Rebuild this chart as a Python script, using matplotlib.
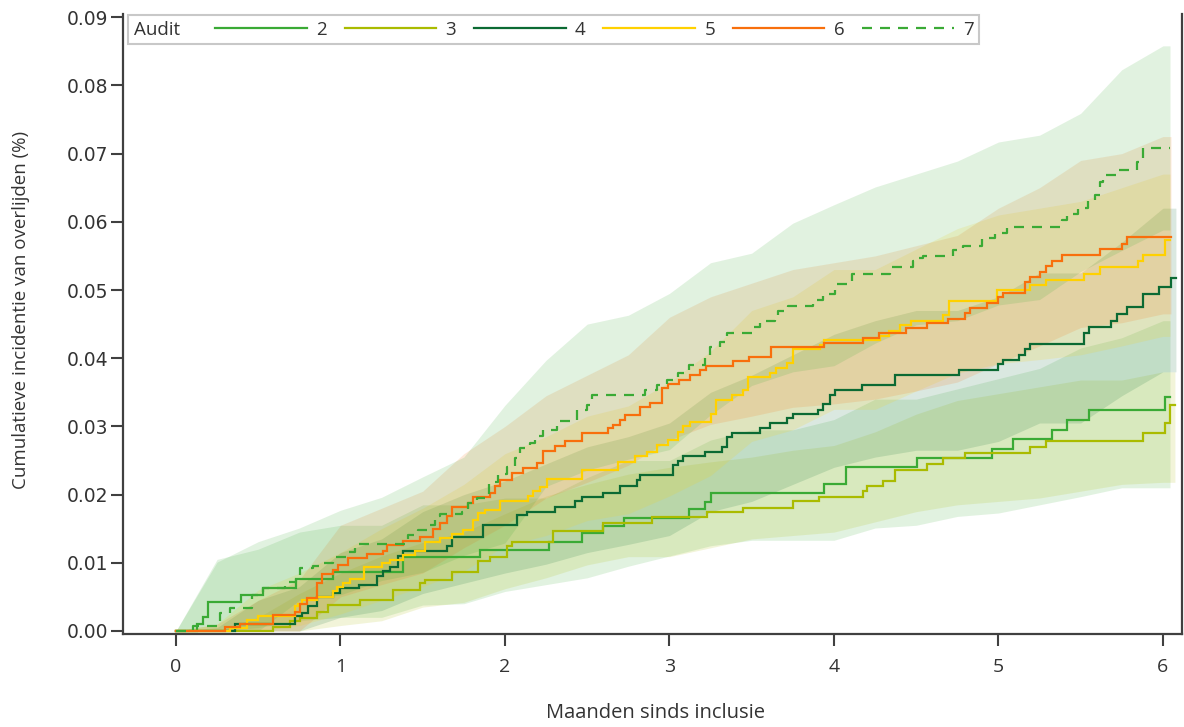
import matplotlib
matplotlib.use("Agg")
import matplotlib.pyplot as plt
from matplotlib.lines import Line2D
from matplotlib.offsetbox import HPacker
from matplotlib.font_manager import FontProperties

# ---------------- data ----------------
LABELS = ["2", "3", "4", "5", "6", "7"]
COLORS = ["#3aaa35", "#aabb00", "#0b6a33", "#ffd100", "#f86f0c", "#3aaa35"]
STYLES = ["-", "-", "-", "-", "-", "--"]

# step estimates (time in months, cumulative incidence)
T2 = [0, 0.128, 0.164, 0.195, 0.395, 0.529, 0.729, 0.954, 1.380, 1.848, 2.267, 2.468, 2.596,
      2.723, 3.119, 3.216, 3.252, 3.939, 4.073, 4.505, 4.960, 5.088, 5.325, 5.416, 5.550, 6.012]
Y2 = [0, 0.001, 0.0021, 0.0043, 0.0053, 0.0063, 0.0076, 0.0086, 0.0109, 0.0119, 0.0131, 0.0143,
      0.0154, 0.0165, 0.0179, 0.0189, 0.0203, 0.0216, 0.0241, 0.0253, 0.0267, 0.0281, 0.0295,
      0.0309, 0.0324, 0.0343]
END2 = 6.043

T3 = [0, 0.590, 0.693, 0.754, 0.857, 0.924, 1.119, 1.319, 1.483, 1.514, 1.678, 1.836, 1.909,
      2.012, 2.043, 2.292, 2.596, 2.894, 3.228, 3.447, 3.751, 3.909, 4.176, 4.201, 4.298, 4.371,
      4.565, 4.663, 4.796, 5.191, 5.289, 5.878, 6.012, 6.043]
Y3 = [0, 0.0006, 0.0014, 0.0019, 0.0028, 0.0038, 0.0045, 0.006, 0.007, 0.0075, 0.0087, 0.0102,
      0.0109, 0.0124, 0.0131, 0.0146, 0.0159, 0.0167, 0.0175, 0.0181, 0.019, 0.0197, 0.0206,
      0.0213, 0.022, 0.0236, 0.0245, 0.0253, 0.0261, 0.027, 0.0279, 0.0291, 0.0305, 0.0331]
END3 = 6.073

T4 = [0, 0.359, 0.723, 0.766, 0.802, 0.857, 0.954, 0.997, 1.112, 1.222, 1.258, 1.301, 1.350,
      1.380, 1.647, 1.678, 1.866, 2.073, 2.134, 2.304, 2.426, 2.468, 2.596, 2.699, 2.802, 2.821,
      3.021, 3.052, 3.082, 3.216, 3.319, 3.350, 3.380, 3.550, 3.611, 3.714, 3.751, 3.903, 3.933,
      3.976, 4.006, 4.170, 4.371, 4.760, 4.997, 5.027, 5.125, 5.161, 5.191, 5.520, 5.550, 5.684,
      5.720, 5.781, 5.878, 5.976, 6.049]
Y4 = [0, 0.001, 0.0022, 0.0026, 0.0037, 0.005, 0.0056, 0.0063, 0.0067, 0.008, 0.0088, 0.0094,
      0.011, 0.0117, 0.0125, 0.0138, 0.0155, 0.017, 0.0175, 0.0182, 0.019, 0.0197, 0.0203,
      0.0212, 0.0221, 0.0229, 0.0243, 0.025, 0.0257, 0.0263, 0.027, 0.0285, 0.0291, 0.0297,
      0.0305, 0.0312, 0.0318, 0.0324, 0.0333, 0.0346, 0.0353, 0.0361, 0.0375, 0.0383, 0.0391,
      0.0397, 0.0405, 0.0413, 0.0421, 0.0437, 0.0446, 0.0455, 0.0465, 0.0475, 0.0494, 0.0505,
      0.0517]
END4 = 6.079

T5 = [0, 0.328, 0.432, 0.498, 0.723, 0.742, 0.766, 0.857, 0.954, 0.979, 1.015, 1.058, 1.143,
      1.252, 1.301, 1.380, 1.453, 1.514, 1.605, 1.678, 1.745, 1.805, 1.836, 1.878, 1.970, 2.140,
      2.170, 2.213, 2.255, 2.468, 2.687, 2.790, 2.863, 2.924, 2.991, 3.052, 3.082, 3.125, 3.252,
      3.283, 3.380, 3.447, 3.477, 3.611, 3.647, 3.714, 3.751, 3.915, 3.939, 4.280, 4.334, 4.401,
      4.468, 4.663, 4.699, 4.991, 5.191, 5.289, 5.520, 5.617, 5.848, 5.878, 6.012]
Y5 = [0, 0.0004, 0.0016, 0.0022, 0.0036, 0.004, 0.0045, 0.005, 0.0059, 0.0064, 0.007, 0.0076,
      0.0094, 0.01, 0.0104, 0.0111, 0.0118, 0.013, 0.0136, 0.0142, 0.0148, 0.0163, 0.0173,
      0.0178, 0.0191, 0.0198, 0.0205, 0.0211, 0.0223, 0.0236, 0.0248, 0.0256, 0.0263, 0.0273,
      0.028, 0.0292, 0.03, 0.0306, 0.0318, 0.0339, 0.0346, 0.0353, 0.0373, 0.0379, 0.0385,
      0.0393, 0.0413, 0.0419, 0.0426, 0.0433, 0.044, 0.0449, 0.0455, 0.0463, 0.0484, 0.05,
      0.0507, 0.0515, 0.0523, 0.0533, 0.0542, 0.0551, 0.0574]
END5 = 6.043

T6 = [0, 0.298, 0.389, 0.590, 0.723, 0.754, 0.796, 0.857, 0.888, 0.954, 0.985, 1.046, 1.161,
      1.258, 1.283, 1.380, 1.483, 1.562, 1.605, 1.647, 1.678, 1.775, 1.805, 1.909, 1.939, 1.970,
      2.043, 2.109, 2.195, 2.231, 2.304, 2.365, 2.468, 2.626, 2.657, 2.699, 2.729, 2.821, 2.881,
      2.954, 2.991, 3.058, 3.125, 3.185, 3.222, 3.386, 3.483, 3.617, 3.939, 4.176, 4.274, 4.438,
      4.565, 4.693, 4.796, 4.827, 4.930, 4.997, 5.027, 5.161, 5.191, 5.252, 5.289, 5.325, 5.386,
      5.617, 5.751, 5.781]
Y6 = [0, 0.0006, 0.001, 0.0023, 0.0028, 0.004, 0.0048, 0.007, 0.0084, 0.009, 0.0097, 0.0107,
      0.0113, 0.0118, 0.0126, 0.0132, 0.0138, 0.015, 0.0158, 0.0168, 0.0182, 0.0187, 0.0197,
      0.0202, 0.0212, 0.0221, 0.0232, 0.0239, 0.0246, 0.0264, 0.0271, 0.0278, 0.029, 0.0297,
      0.0302, 0.031, 0.0317, 0.0329, 0.0335, 0.0356, 0.0362, 0.0368, 0.0375, 0.0382, 0.0388,
      0.0396, 0.0402, 0.0416, 0.0423, 0.043, 0.0437, 0.0444, 0.0451, 0.0458, 0.0467, 0.0473,
      0.0481, 0.049, 0.0496, 0.0512, 0.0519, 0.0527, 0.0535, 0.0543, 0.0551, 0.056, 0.0568,
      0.0577]
END6 = 6.049

T7 = [0, 0.103, 0.267, 0.328, 0.462, 0.529, 0.663, 0.729, 0.754, 0.833, 0.894, 0.954, 1.040,
      1.088, 1.410, 1.471, 1.526, 1.574, 1.605, 1.739, 1.775, 1.830, 1.903, 1.957, 2.012, 2.061,
      2.091, 2.152, 2.182, 2.231, 2.316, 2.438, 2.498, 2.529, 2.851, 2.924, 2.985, 3.052, 3.119,
      3.216, 3.246, 3.307, 3.350, 3.514, 3.550, 3.641, 3.660, 3.720, 3.872, 3.933, 4.006, 4.109,
      4.340, 4.480, 4.492, 4.541, 4.723, 4.784, 4.900, 4.979, 5.052, 5.386, 5.416, 5.483, 5.544,
      5.587, 5.617, 5.635, 5.720, 5.842, 5.878]
Y7 = [0, 0.0007, 0.0026, 0.0034, 0.0053, 0.0063, 0.0072, 0.008, 0.0092, 0.0095, 0.01, 0.0108,
      0.0116, 0.0128, 0.0141, 0.0148, 0.0155, 0.0168, 0.0171, 0.0175, 0.0187, 0.0195, 0.0219,
      0.023, 0.0241, 0.0253, 0.0268, 0.0275, 0.0286, 0.0294, 0.0308, 0.0324, 0.0331, 0.0346,
      0.0353, 0.0361, 0.0368, 0.0378, 0.039, 0.0402, 0.0416, 0.0424, 0.0437, 0.0446, 0.0454,
      0.0461, 0.0469, 0.0477, 0.0485, 0.0494, 0.0509, 0.0524, 0.0533, 0.0542, 0.0547, 0.055,
      0.0559, 0.0565, 0.0576, 0.0584, 0.0593, 0.0603, 0.0611, 0.062, 0.063, 0.0639, 0.0659,
      0.0669, 0.0676, 0.0688, 0.0708]
END7 = 6.043

# confidence bands sampled every quarter month
BAND_T = [0, 0.25, 0.5, 0.75, 1.0, 1.25, 1.5, 1.75, 2.0, 2.25, 2.5, 2.75, 3.0,
          3.25, 3.5, 3.75, 4.0, 4.25, 4.5, 4.75, 5.0, 5.25, 5.5, 5.75, 6.0]
LO2 = [0, 0, 0.0005, 0.0015, 0.002, 0.002, 0.0038, 0.004, 0.0058, 0.0068, 0.0078, 0.0095, 0.011,
       0.0125, 0.0133, 0.0133, 0.0133, 0.0151, 0.0155, 0.0168, 0.0173, 0.0185, 0.0197, 0.021, 0.021]
HI2 = [0, 0.0105, 0.012, 0.0145, 0.0155, 0.0155, 0.0185, 0.0185, 0.0195, 0.0195, 0.0225, 0.025,
       0.025, 0.028, 0.0295, 0.0295, 0.031, 0.034, 0.034, 0.0355, 0.037, 0.0385, 0.0415, 0.043,
       0.0455]
LO3 = [0, 0, 0, 0, 0.0008, 0.0015, 0.0035, 0.0042, 0.0062, 0.0078, 0.0097, 0.0109, 0.0109,
       0.0122, 0.0135, 0.014, 0.0145, 0.016, 0.0175, 0.0185, 0.019, 0.0195, 0.0205, 0.0215, 0.0218]
HI3 = [0, 0, 0.002, 0.0055, 0.0085, 0.011, 0.013, 0.0145, 0.0172, 0.0198, 0.0215, 0.023, 0.024,
       0.0248, 0.0255, 0.0265, 0.0272, 0.0292, 0.0318, 0.0338, 0.0348, 0.0358, 0.0368, 0.0368,
       0.038]
LO4 = [0, 0, 0, 0, 0.002, 0.003, 0.0055, 0.007, 0.0085, 0.0098, 0.0115, 0.0127, 0.014, 0.0175,
       0.019, 0.0215, 0.024, 0.0255, 0.0265, 0.0265, 0.0278, 0.0305, 0.0305, 0.0345, 0.038]
HI4 = [0, 0.0005, 0.0045, 0.0065, 0.0115, 0.0135, 0.0175, 0.02, 0.022, 0.0245, 0.027, 0.0285,
       0.0305, 0.035, 0.0375, 0.0405, 0.0435, 0.0455, 0.047, 0.047, 0.049, 0.0525, 0.0525, 0.057,
       0.062]
LO5 = [0, 0, 0, 0.0008, 0.0025, 0.0045, 0.0065, 0.0088, 0.0125, 0.014, 0.0162, 0.0172, 0.0198,
       0.0228, 0.0278, 0.0295, 0.0325, 0.0325, 0.0352, 0.0378, 0.0392, 0.0398, 0.0405, 0.0418,
       0.0432]
HI5 = [0, 0.001, 0.006, 0.0085, 0.0115, 0.015, 0.018, 0.0215, 0.026, 0.0285, 0.0315, 0.033,
       0.0365, 0.041, 0.047, 0.049, 0.053, 0.053, 0.056, 0.059, 0.061, 0.062, 0.063, 0.065, 0.067]
LO6 = [0, 0, 0, 0, 0.005, 0.0068, 0.0085, 0.0122, 0.0155, 0.0195, 0.0218, 0.0243, 0.028, 0.0303,
       0.0315, 0.0328, 0.0333, 0.034, 0.0352, 0.0365, 0.0392, 0.0418, 0.0445, 0.0452, 0.0465]
HI6 = [0, 0.001, 0.0045, 0.0075, 0.0155, 0.018, 0.0205, 0.026, 0.030, 0.0345, 0.0375, 0.0405,
       0.046, 0.049, 0.051, 0.053, 0.054, 0.055, 0.0565, 0.058, 0.062, 0.065, 0.069, 0.070, 0.0725]
LO7 = [0, 0, 0, 0.0045, 0.0053, 0.0074, 0.0086, 0.0111, 0.0129, 0.0212, 0.0236, 0.0252, 0.0266,
       0.0317, 0.036, 0.038, 0.0389, 0.0422, 0.0449, 0.0455, 0.0478, 0.0486, 0.0527, 0.0558,
       0.0588]
HI7 = [0, 0.0101, 0.0131, 0.0151, 0.0177, 0.0196, 0.0226, 0.0255, 0.0331, 0.0397, 0.045, 0.0463,
       0.0495, 0.054, 0.0554, 0.0598, 0.0625, 0.0651, 0.067, 0.0689, 0.0717, 0.0727, 0.0759,
       0.0823, 0.0858]

X_TICKS = [0, 1, 2, 3, 4, 5, 6]
Y_TICKS = [0.00, 0.01, 0.02, 0.03, 0.04, 0.05, 0.06, 0.07, 0.08, 0.09]

series = [
    (T2, Y2, END2, LO2, HI2),
    (T3, Y3, END3, LO3, HI3),
    (T4, Y4, END4, LO4, HI4),
    (T5, Y5, END5, LO5, HI5),
    (T6, Y6, END6, LO6, HI6),
    (T7, Y7, END7, LO7, HI7),
]

# ---------------- figure ----------------
W, H = 1184, 727
fig = plt.figure(figsize=(W / 100, H / 100), dpi=100)
ax = fig.add_axes([123 / W, 1 - 634 / H, (1182 - 123) / W, (634 - 14) / H])

TXT = ["Open Sans", "DejaVu Sans"]
spine_c = "#404040"

# bands first
for (t, y, end, lo, hi), c in zip(series, COLORS):
    bt = list(BAND_T) + [end]
    blo = list(lo) + [lo[-1]]
    bhi = list(hi) + [hi[-1]]
    ax.fill_between(bt, blo, bhi, color=c, alpha=0.15, lw=0)

for (t, y, end, lo, hi), c, ls in zip(series, COLORS, STYLES):
    tt = list(t) + [end]
    yy = list(y) + [y[-1]]
    kw = dict(color=c, lw=1.6, drawstyle="steps-post", solid_joinstyle="miter")
    if ls == "--":
        kw["dashes"] = (4.5, 3.6)
    ax.plot(tt, yy, **kw)

ax.set_xlim(-0.322, 6.116)
ax.set_ylim(-0.00044, 0.09047)
ax.set_xticks(X_TICKS)
ax.set_xticklabels([str(v) for v in X_TICKS], family=TXT, fontsize=14)
ax.set_yticks(Y_TICKS)
ax.set_yticklabels([f"{v:.2f}" for v in Y_TICKS], family="DejaVu Sans", fontsize=13.5,
                   color="#333333")
for lab in ax.get_xticklabels():
    lab.set_color("#333333")

for s in ["left", "bottom", "right"]:
    ax.spines[s].set_color(spine_c)
    ax.spines[s].set_linewidth(1.6)
ax.spines["top"].set_visible(False)
ax.tick_params(axis="both", direction="out", length=8.5, width=1.5, color=spine_c)
ax.tick_params(axis="x", pad=9)
ax.tick_params(axis="y", pad=2)

ax.set_xlabel("Maanden sinds inclusie", family=TXT, fontsize=14.5, color="#333333")
ax.xaxis.set_label_coords((655 - 123) / 1059, (634 - 703) / 620)
ax.set_ylabel("Cumulatieve incidentie van overlijden (%)", family=TXT, fontsize=13.5,
              color="#333333")
ax.yaxis.set_label_coords((30 - 123) / 1059, (634 - 310) / 620)

# legend: title "Audit" placed to the left of the entries
handles = []
for c, ls in zip(COLORS, STYLES):
    h = Line2D([], [], color=c, lw=1.6)
    if ls == "--":
        h.set_dashes((4.5, 3.6))
    handles.append(h)
fp = FontProperties(family=TXT, size=13.5)
leg = ax.legend(handles, LABELS, title="Audit", ncol=6, loc="upper left",
                bbox_to_anchor=(128 / W, 1 - 15 / H), bbox_transform=fig.transFigure,
                borderaxespad=0, frameon=True, fancybox=False, prop=fp,
                title_fontproperties=fp, handlelength=4.88, handletextpad=0.5,
                columnspacing=0.95, borderpad=0.3, edgecolor="#c8c8c8", framealpha=1)
for txt in leg.get_texts():
    txt.set_color("#333333")
leg.get_title().set_color("#333333")
leg.get_frame().set_linewidth(1.5)
old = leg._legend_box
newbox = HPacker(pad=old.pad, sep=13.5 * 1.9, align="center",
                 children=[leg._legend_title_box, leg._legend_handle_box])
newbox.set_figure(fig)
newbox.axes = ax
newbox.set_offset(leg._findoffset)
leg._legend_box = newbox

fig.savefig("out.png", dpi=100)
